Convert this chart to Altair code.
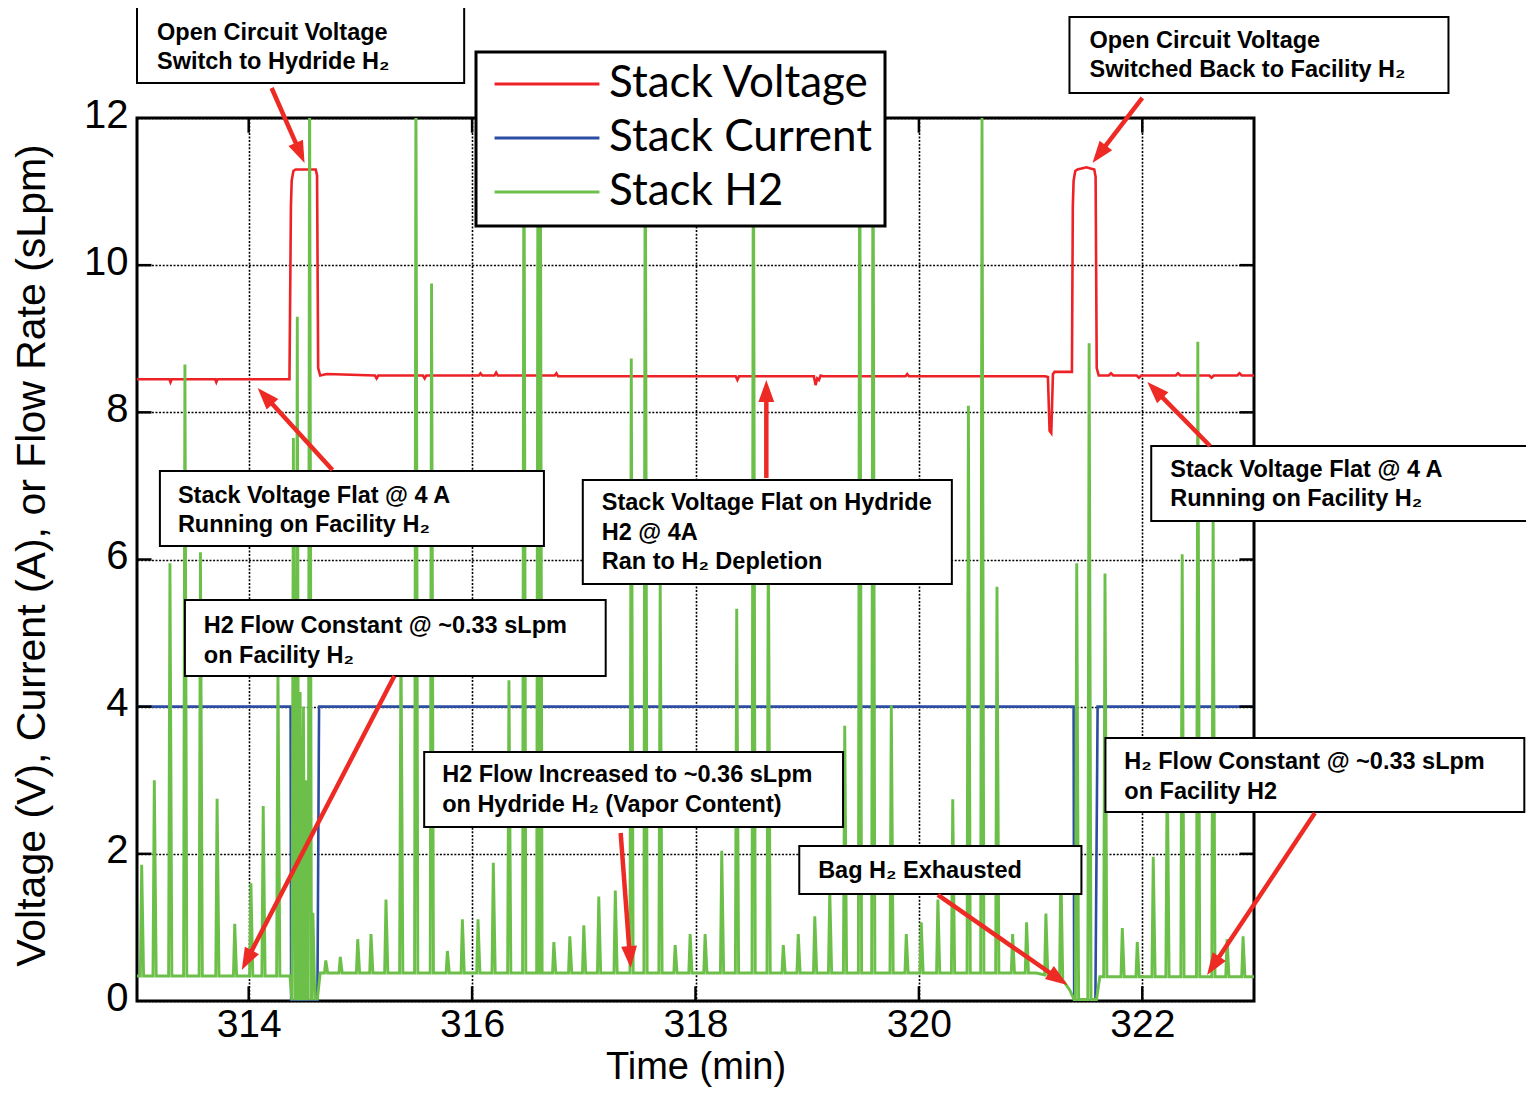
import math
import numpy as np
import pandas as pd
import altair as alt

# ------------------------------------------------------------------
# Values
# ------------------------------------------------------------------
series_names = ["Stack Voltage", "Stack Current", "Stack H2"]
series_colors = ["#ec2227", "#2b4ea2", "#6cc04a"]

x_ticks = [314, 316, 318, 320, 322]
y_ticks = [0, 2, 4, 6, 8, 10, 12]

# Stack Voltage (V)
volt_t = [313.00, 313.29, 313.30, 313.31, 313.70, 313.71, 313.72, 314.365,
          314.378, 314.385, 314.40, 314.42, 314.50, 314.60, 314.612, 314.622, 314.64, 314.70,
          315.13, 315.145, 315.16, 315.56, 315.575, 315.59, 316.06, 316.075, 316.09,
          316.20, 316.215, 316.23, 316.74, 316.755, 316.77, 317.60, 318.36, 318.375, 318.39,
          319.06, 319.075, 319.09, 319.105, 319.12, 319.14, 319.88, 319.895, 319.91, 320.50,
          321.13, 321.155, 321.17, 321.185, 321.20, 321.215, 321.37,
          321.378, 321.385, 321.40, 321.42, 321.50, 321.57, 321.582, 321.592, 321.61,
          321.70, 321.72, 321.74, 321.95, 321.97, 321.99, 322.30, 322.32, 322.34,
          322.60, 322.62, 322.64, 322.85, 322.87, 322.89, 323.00]
volt_v = [8.45, 8.45, 8.41, 8.45, 8.45, 8.41, 8.45, 8.45,
          10.8, 11.15, 11.28, 11.30, 11.30, 11.30, 11.22, 8.60, 8.50, 8.52,
          8.50, 8.46, 8.50, 8.50, 8.46, 8.50, 8.50, 8.53, 8.50,
          8.50, 8.54, 8.50, 8.50, 8.53, 8.49, 8.49, 8.49, 8.44, 8.49,
          8.49, 8.37, 8.46, 8.44, 8.50, 8.49, 8.49, 8.52, 8.49, 8.49,
          8.49, 8.48, 7.75, 7.72, 8.52, 8.55, 8.55,
          10.8, 11.15, 11.28, 11.30, 11.33, 11.30, 11.20, 8.60, 8.50,
          8.50, 8.53, 8.50, 8.50, 8.47, 8.50, 8.50, 8.53, 8.50,
          8.50, 8.47, 8.50, 8.50, 8.53, 8.50, 8.50]

# Stack Current (A)
curr_t = [313.0, 314.375, 314.38, 314.615, 314.63, 321.385, 321.39, 321.58, 321.60, 323.0]
curr_v = [4.0, 4.0, 0.0, 0.0, 4.0, 4.0, 0.0, 0.0, 4.0, 4.0]

# Stack H2 flow (sLpm): baseline level between pulses
h2_base_t = [313.0, 314.37, 314.385, 314.615, 314.64, 321.05, 321.25, 321.35, 321.39, 321.59, 321.62, 323.0]
h2_base_v = [0.34, 0.34, 0.03, 0.03, 0.38, 0.38, 0.32, 0.15, 0.02, 0.02, 0.33, 0.33]

# Stack H2 flow (sLpm): pulse peaks
h2_peak_t = [313.042, 313.155, 313.295, 313.429, 313.568, 313.717, 313.875, 314.02, 314.13, 314.262,
             314.40, 314.435, 314.46, 314.49, 314.515, 314.545, 314.575,
             314.69, 314.82, 314.976, 315.095, 315.229, 315.363, 315.497, 315.637, 315.779, 315.913,
             316.053, 316.19, 316.33, 316.464, 316.59, 316.61, 316.732, 316.875,
             317.0, 317.134, 317.282, 317.425, 317.55, 317.684, 317.818, 317.952, 318.086, 318.235,
             318.369, 318.518, 318.652, 318.786, 318.92,
             319.068, 319.202, 319.336, 319.47, 319.589, 319.753, 319.887, 320.021, 320.17, 320.303,
             320.443, 320.565, 320.699, 320.839, 320.964, 321.137, 321.271,
             321.413, 321.524, 321.666, 321.821, 321.955, 322.098, 322.223, 322.357, 322.497,
             322.634, 322.759, 322.902]
h2_peak_v = [1.85, 3.0, 5.95, 8.65, 6.1, 2.75, 1.05, 1.6, 2.65, 4.5,
             7.65, 9.3, 4.2, 4.0, 3.0, 12.6, 1.2,
             0.55, 0.6, 0.84, 0.91, 1.38, 5.0, 12.6, 9.75, 0.68, 1.11,
             1.11, 1.88, 4.36, 12.6, 12.6, 12.6, 0.8, 0.88,
             1.03, 1.42, 1.5, 8.73, 12.6, 5.68, 0.76, 0.91, 0.91, 2.04,
             5.33, 12.6, 6.5, 0.76, 0.91,
             1.15, 1.5, 3.74, 12.6, 12.6, 4.02, 0.91, 1.07, 1.38, 2.74,
             8.09, 12.0, 5.63, 0.91, 1.07, 1.19, 1.81,
             5.95, 8.94, 5.81, 0.99, 0.8, 1.96, 3.3, 6.07, 8.96,
             6.69, 0.84, 0.88]

# ------------------------------------------------------------------
# Annotations (data coordinates)
# ------------------------------------------------------------------
box_t1 = [313.000, 321.348, 313.205, 316.991, 322.080, 313.429, 315.571, 318.929, 321.670]
box_t2 = [315.929, 324.741, 316.643, 320.295, 325.600, 317.196, 319.321, 321.455, 325.420]
box_v1 = [13.509, 13.373, 7.203, 7.081, 7.543, 5.450, 3.384, 2.106, 3.574]
box_v2 = [12.476, 12.340, 6.184, 5.667, 6.523, 4.417, 2.365, 1.454, 2.569]

note_t = [313.179, 313.179, 321.527, 321.527, 313.366, 313.366, 317.161, 317.161, 317.161,
          322.250, 322.250, 313.598, 313.598, 315.732, 315.732, 319.098, 321.839, 321.839]
note_v = [13.155, 12.761, 13.047, 12.653, 6.863, 6.469, 6.768, 6.360, 5.966,
          7.217, 6.822, 5.096, 4.689, 3.071, 2.664, 1.767, 3.248, 2.840]
note_text = ["Open Circuit Voltage", "Switch to Hydride H\u2082",
             "Open Circuit Voltage", "Switched Back to Facility H\u2082",
             "Stack Voltage Flat @ 4 A", "Running on Facility H\u2082",
             "Stack Voltage Flat on Hydride", "H2 @ 4A", "Ran to H\u2082 Depletion",
             "Stack Voltage Flat @ 4 A", "Running on Facility H\u2082",
             "H2 Flow Constant @ ~0.33 sLpm", "on Facility H\u2082",
             "H2 Flow Increased to ~0.36 sLpm", "on Hydride H\u2082 (Vapor Content)",
             "Bag H\u2082 Exhausted",
             "H\u2082 Flow Constant @ ~0.33 sLpm", "on Facility H2"]

arrow_t1 = [314.205, 322.000, 314.750, 318.634, 322.607, 315.304, 317.330, 320.170, 323.545]
arrow_v1 = [12.408, 12.272, 7.216, 7.108, 7.543, 4.417, 2.283, 1.441, 2.555]
arrow_t2 = [314.500, 321.554, 314.080, 318.634, 322.045, 313.938, 317.420, 321.330, 322.580]
arrow_v2 = [11.389, 11.389, 8.331, 8.439, 8.412, 0.421, 0.448, 0.217, 0.353]

# ------------------------------------------------------------------
# Build tables
# ------------------------------------------------------------------
W, H = 1117, 883
T0, T1, V0, V1 = 313.0, 323.0, 0.0, 12.0
PX_T = W / (T1 - T0)
PX_V = H / (V1 - V0)

volt_df = pd.DataFrame({"t": volt_t, "v": volt_v, "series": series_names[0]})
curr_df = pd.DataFrame({"t": curr_t, "v": curr_v, "series": series_names[1]})

base_at_peak = np.interp(h2_peak_t, h2_base_t, h2_base_v)
pts = list(zip(h2_base_t, h2_base_v))
for t, v, b in zip(h2_peak_t, h2_peak_v, base_at_peak):
    pts += [(t - 0.012, float(b)), (t, v), (t + 0.017, float(b))]
pts.sort(key=lambda p: p[0])
h2_df = pd.DataFrame(pts, columns=["t", "v"])
h2_df["series"] = series_names[2]

box_df = pd.DataFrame({"t": box_t1, "t2": box_t2, "v": box_v1, "v2": box_v2})
note_df = pd.DataFrame({"t": note_t, "v": note_v, "label": note_text})

HEAD_SIZE = 484
r_head = math.sqrt(HEAD_SIZE) / 2
shaft_rows, head_rows = [], []
for t1, v1, t2, v2 in zip(arrow_t1, arrow_v1, arrow_t2, arrow_v2):
    dx = (t2 - t1) * PX_T
    dy = -(v2 - v1) * PX_V
    L = math.hypot(dx, dy)
    ux, uy = dx / L, dy / L
    ct = t2 - r_head * ux / PX_T
    cv = v2 + r_head * uy / PX_V
    ang = math.degrees(math.atan2(ux, -uy)) % 360
    shaft_rows.append({"t": t1, "v": v1, "t2": ct, "v2": cv})
    head_rows.append({"t": ct, "v": cv, "ang": ang})
shaft_df = pd.DataFrame(shaft_rows)
head_df = pd.DataFrame(head_rows)

tick_rows = []
for t in x_ticks:
    tick_rows.append({"t": t, "v": V0, "t2": t, "v2": V0 + 0.2})
    tick_rows.append({"t": t, "v": V1, "t2": t, "v2": V1 - 0.2})
for v in y_ticks[1:-1]:
    tick_rows.append({"t": T0, "v": v, "t2": T0 + 0.13, "v2": v})
    tick_rows.append({"t": T1, "v": v, "t2": T1 - 0.13, "v2": v})
tick_df = pd.DataFrame(tick_rows)

# ------------------------------------------------------------------
# Encodings
# ------------------------------------------------------------------
AX_FONT = "Liberation Sans"
xscale = alt.Scale(domain=[T0, T1], nice=False, zero=False)
yscale = alt.Scale(domain=[V0, V1], nice=False, zero=False)
xaxis = alt.Axis(values=x_ticks, title="Time (min)", grid=True, gridColor="black",
                 gridDash=[2, 1.6], gridWidth=1.6, gridOpacity=1, ticks=False, domain=False,
                 labelFont=AX_FONT, labelFontSize=39, labelPadding=4, labelColor="black",
                 titleFont=AX_FONT, titleFontSize=38, titleFontWeight="normal",
                 titleColor="black", titleY=77, titleBaseline="alphabetic")
yaxis = alt.Axis(values=y_ticks, title="Voltage (V), Current (A), or Flow Rate (sLpm)",
                 grid=True, gridColor="black", gridDash=[2, 1.6], gridWidth=1.6, gridOpacity=1,
                 ticks=False, domain=False, labelFont=AX_FONT, labelFontSize=40,
                 labelPadding=9, labelColor="black", labelOffset=-3,
                 titleFont=AX_FONT, titleFontSize=41, titleFontWeight="normal",
                 titleColor="black", titleX=-93, titleY=437, titleAngle=270,
                 titleAlign="center", titleBaseline="alphabetic")


def X(f="t"):
    return alt.X(f"{f}:Q", scale=xscale, axis=xaxis)


def Y(f="v"):
    return alt.Y(f"{f}:Q", scale=yscale, axis=yaxis)


color_scale = alt.Scale(domain=series_names, range=series_colors)
legend = alt.Legend(title=None, orient="none", legendX=339, legendY=-66,
                    symbolType="stroke", symbolSize=11000, symbolStrokeWidth=3,
                    symbolOffset=5,
                    labelFont="Lato", labelFontSize=44, labelColor="black",
                    labelOffset=8, labelLimit=0, clipHeight=40, rowPadding=10,
                    padding=12, fillColor="white", strokeColor="black")


def series_line(df, width):
    return alt.Chart(df).mark_line(clip=True, strokeWidth=width).encode(
        x=X(), y=Y(),
        color=alt.Color("series:N", scale=color_scale, legend=legend),
        order=alt.Order("t:Q"),
    )


volt_line = series_line(volt_df, 2.6)
curr_line = series_line(curr_df, 2.6)
h2_line = series_line(h2_df, 2.9)

ticks = alt.Chart(tick_df).mark_rule(color="black", strokeWidth=2.5).encode(
    x=X(), y=Y(), x2="t2:Q", y2="v2:Q")

boxes = alt.Chart(box_df).mark_rect(fill="white", stroke="black", strokeWidth=2).encode(
    x=X(), y=Y(), x2="t2:Q", y2="v2:Q")

notes = alt.Chart(note_df).mark_text(
    align="left", baseline="middle", font="Liberation Sans", fontWeight="bold",
    fontSize=23.5, color="black").encode(x=X(), y=Y(), text="label:N")

shafts = alt.Chart(shaft_df).mark_rule(color="#ee2a24", strokeWidth=4.5).encode(
    x=X(), y=Y(), x2="t2:Q", y2="v2:Q")

heads = alt.Chart(head_df).mark_point(
    shape="M0,-1L0.72,1L-0.72,1Z", filled=True, size=HEAD_SIZE, color="#ee2a24",
    opacity=1, strokeWidth=0).encode(
    x=X(), y=Y(), angle=alt.Angle("ang:Q", scale=None))

chart = alt.layer(
    volt_line, curr_line, h2_line, ticks, boxes, notes, shafts, heads
).properties(
    width=W, height=H,
    autosize=alt.AutoSizeParams(type="none"),
    padding={"left": 129, "top": 110, "right": 272, "bottom": 86},
).configure_view(
    stroke="black", strokeWidth=3
).configure_legend(
    strokeWidth=3
)

chart.save("out.html", embed_options={"renderer": "svg", "actions": False})
